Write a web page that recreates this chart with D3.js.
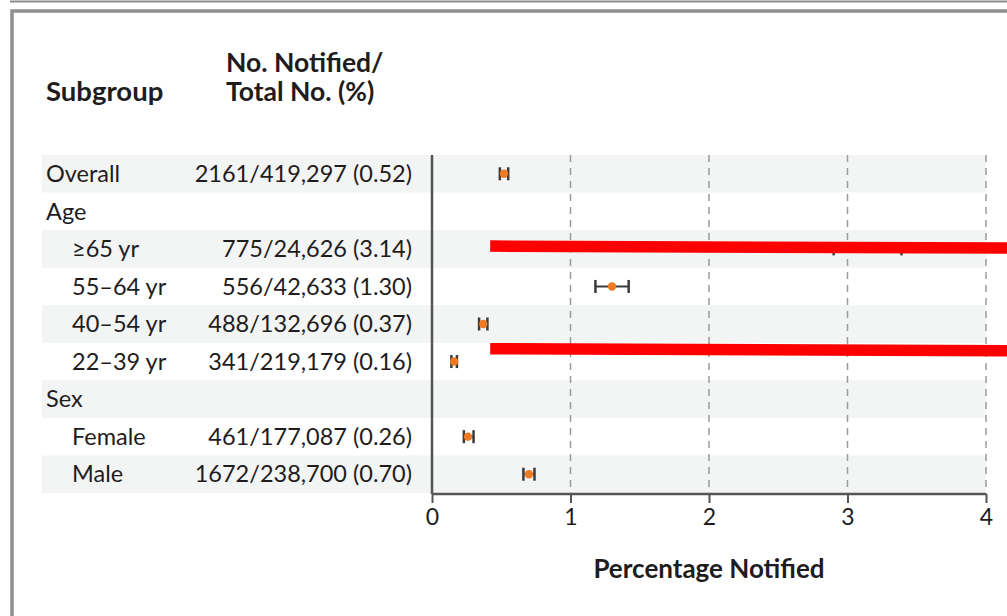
<!DOCTYPE html>
<html>
<head>
<meta charset="utf-8">
<script src="https://cdn.jsdelivr.net/npm/d3@7"></script>
<style>
  html, body { margin: 0; padding: 0; background: #fff; }
  svg { display: block; }
  text { font-family: Lato, "Open Sans", sans-serif; fill: #1f1c1d; }
</style>
</head>
<body>
<svg id="chart" width="1007" height="616"></svg>
<script>
// Subgroup rows, top to bottom (headers have no estimate)
const labels   = ["Overall", "Age", "\u226565 yr", "55\u201364 yr", "40\u201354 yr", "22\u201339 yr", "Sex", "Female", "Male"];
const indented = [false, false, true, true, true, true, false, true, true];
const counts   = ["2161/419,297 (0.52)", "", "775/24,626 (3.14)", "556/42,633 (1.30)", "488/132,696 (0.37)", "341/219,179 (0.16)", "", "461/177,087 (0.26)", "1672/238,700 (0.70)"];
const pct      = [0.52, null, 3.14, 1.30, 0.37, 0.16, null, 0.26, 0.70];
const ciLow    = [0.49, null, 2.90, 1.18, 0.34, 0.14, null, 0.23, 0.66];
const ciHigh   = [0.55, null, 3.39, 1.42, 0.40, 0.18, null, 0.30, 0.74];
const xTicks   = [0, 1, 2, 3, 4];

const svg = d3.select("#chart");

const x = d3.scaleLinear().domain([0, 4]).range([432, 986]);
const y = d3.scaleBand().domain(d3.range(labels.length)).range([155, 493]).padding(0);

// page frame
svg.append("line").attr("x1", 10).attr("x2", 1007).attr("y1", 1.5).attr("y2", 1.5)
  .attr("stroke", "#8c8c8c").attr("stroke-width", 2);
svg.append("rect").attr("x", 12).attr("y", 11).attr("width", 1100).attr("height", 700)
  .attr("fill", "none").attr("stroke", "#8f8f8f").attr("stroke-width", 3.5);

// alternating row shading
svg.append("g").selectAll("rect")
  .data(d3.range(labels.length).filter(i => i % 2 === 0))
  .join("rect")
  .attr("x", 42).attr("width", x(4) - 42)
  .attr("y", i => y(i)).attr("height", y.bandwidth())
  .attr("fill", "#f3f4f4");

// column headers
const hdr = svg.append("g").attr("font-weight", "bold").attr("font-size", 26.5);
hdr.append("text").attr("x", 46).attr("y", 101).attr("font-size", 27.5).text("Subgroup");
hdr.append("text").attr("x", 226).attr("y", 72).text("No. Notified/");
hdr.append("text").attr("x", 226).attr("y", 101).text("Total No. (%)");

// row labels and counts
const rows = svg.append("g").attr("font-size", 23.5);
rows.selectAll("text.lbl").data(labels).join("text").attr("class", "lbl")
  .attr("x", (d, i) => indented[i] ? 72 : 46)
  .attr("y", (d, i) => y(i) + y.bandwidth() / 2)
  .attr("dy", "0.35em")
  .text(d => d);
rows.selectAll("text.cnt").data(counts).join("text").attr("class", "cnt")
  .attr("x", 412)
  .attr("text-anchor", "end")
  .attr("y", (d, i) => y(i) + y.bandwidth() / 2)
  .attr("dy", "0.35em")
  .text(d => d);

// dashed reference lines
svg.append("g").selectAll("line").data(xTicks.slice(1)).join("line")
  .attr("x1", d => x(d)).attr("x2", d => x(d))
  .attr("y1", 155).attr("y2", 494)
  .attr("stroke", "#9a9a9a").attr("stroke-width", 1.5)
  .attr("stroke-dasharray", "7,6");

// axes
const xAxis = svg.append("g").attr("transform", "translate(0,494)")
  .call(d3.axisBottom(x).tickValues(xTicks).tickSize(9).tickPadding(6).tickFormat(d3.format("d")));
xAxis.select(".domain").attr("stroke", "#555").attr("stroke-width", 2.5).attr("d", `M${x(0)},0H${x(4)}`);
xAxis.selectAll(".tick line").attr("stroke", "#555").attr("stroke-width", 2);
xAxis.selectAll(".tick text").attr("font-size", 23).attr("font-family", "Lato, sans-serif").attr("fill", "#1f1c1d");

svg.append("line").attr("x1", x(0)).attr("x2", x(0)).attr("y1", 155).attr("y2", 494)
  .attr("stroke", "#555").attr("stroke-width", 2.5);

svg.append("text").attr("x", x(2)).attr("y", 578).attr("text-anchor", "middle")
  .attr("font-weight", "bold").attr("font-size", 26).text("Percentage Notified");

// estimates with 95% intervals
const est = d3.range(labels.length).filter(i => pct[i] !== null);
const g = svg.append("g");
const cy = i => y(i) + y.bandwidth() / 2;
g.selectAll("line.ci").data(est).join("line").attr("class", "ci")
  .attr("x1", i => x(ciLow[i])).attr("x2", i => x(ciHigh[i]))
  .attr("y1", cy).attr("y2", cy)
  .attr("stroke", "#3a3a3a").attr("stroke-width", 2);
g.selectAll("line.capL").data(est).join("line").attr("class", "capL")
  .attr("x1", i => x(ciLow[i])).attr("x2", i => x(ciLow[i]))
  .attr("y1", i => cy(i) - 6.5).attr("y2", i => cy(i) + 6.5)
  .attr("stroke", "#3a3a3a").attr("stroke-width", 2.5);
g.selectAll("line.capH").data(est).join("line").attr("class", "capH")
  .attr("x1", i => x(ciHigh[i])).attr("x2", i => x(ciHigh[i]))
  .attr("y1", i => cy(i) - 6.5).attr("y2", i => cy(i) + 6.5)
  .attr("stroke", "#3a3a3a").attr("stroke-width", 2.5);
g.selectAll("circle").data(est).join("circle")
  .attr("cx", i => x(pct[i])).attr("cy", cy).attr("r", 4.2)
  .attr("fill", "#ee7a22");

// red strike-through marks across the age rows
svg.append("g").selectAll("line").data([
  [x(0.42), y(2) + 16, 1007, y(2) + 18],
  [x(0.42), y(5) + 6, 1007, y(5) + 8]
]).join("line")
  .attr("x1", d => d[0]).attr("y1", d => d[1])
  .attr("x2", d => d[2]).attr("y2", d => d[3])
  .attr("stroke", "#ff0000").attr("stroke-width", 11.5);
</script>
</body>
</html>
